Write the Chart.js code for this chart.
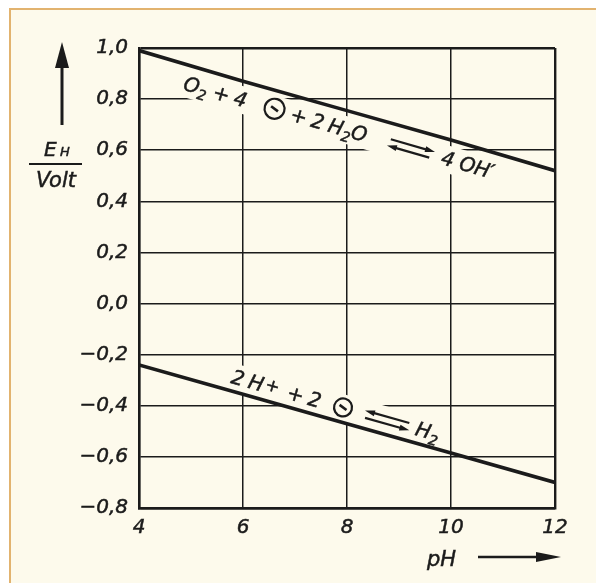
<!DOCTYPE html>
<html>
<head>
<meta charset="utf-8">
<script src="https://cdn.jsdelivr.net/npm/chart.js@4/dist/chart.umd.min.js"></script>
<style>
  html, body { margin: 0; padding: 0; width: 596px; height: 583px; overflow: hidden; background: #fff; }
  #paper { position: absolute; left: 9px; top: 8px; width: 620px; height: 620px; background: #fdfaec; border: 2px solid #e2b36f; }
  #wrap  { position: absolute; left: 0; top: 0; width: 596px; height: 583px; }
</style>
</head>
<body>
<div id="paper"></div>
<div id="wrap"><canvas id="chart" width="596" height="583"></canvas></div>
<script>
'use strict';

// Values: redox potential (V) against pH
const phValues  = [4, 6, 8, 10, 12];
const oxygenE   = [0.99, 0.87, 0.755, 0.64, 0.52];
const hydrogenE = [-0.24, -0.355, -0.47, -0.585, -0.70];

const xTickValues = [4, 6, 8, 10, 12];
const xTickLabels = ['4', '6', '8', '10', '12'];
const yTickValues = [-0.8, -0.6, -0.4, -0.2, 0.0, 0.2, 0.4, 0.6, 0.8, 1.0];
const yTickLabels = ['−0,8', '−0,6', '−0,4', '−0,2', '0,0', '0,2', '0,4', '0,6', '0,8', '1,0'];

const INK    = '#1b1b1b';
const PAPER  = '#fdfaec';
const FAMILY = '"DejaVu Sans", sans-serif';
const italic = px => `italic ${px}px ${FAMILY}`;

// Reaction labels written along the two lines (anchor = start of baseline, in data units)
const reactions = [
  {
    line: 0, pH: 4.83, e: 0.838,
    items: [
      { t: 'O' }, { t: '2', sub: true }, { gap: 6 }, { t: '+' }, { gap: 5 }, { t: '4' }, { gap: 18 },
      { circle: 11 }, { gap: 6 }, { t: '+' }, { gap: 5 }, { t: '2' }, { gap: 5 },
      { t: 'H' }, { t: '2', sub: true }, { t: 'O' }, { gap: 22 },
      { arrows: 'top-right', len: 48 }, { gap: 8 }, { t: '4' }, { gap: 6 }, { t: 'OH′' },
    ],
  },
  {
    line: 1, pH: 5.75, e: -0.31,
    items: [
      { t: '2' }, { gap: 5 }, { t: 'H' }, { gap: 2 }, { t: '+', sup: true }, { gap: 9 }, { t: '+' }, { gap: 5 },
      { t: '2' }, { gap: 13 }, { circle: 10 }, { gap: 12 },
      { arrows: 'top-left', len: 48 }, { gap: 6 }, { t: 'H' }, { t: '2', sub: true },
    ],
  },
];

const sizeOf = it => it.sub ? 14 : it.sup ? 17 : 20;

function itemWidth(ctx, it) {
  if (it.gap) return it.gap;
  if (it.circle) return it.circle * 2;
  if (it.arrows) return it.len;
  ctx.font = italic(sizeOf(it));
  return ctx.measureText(it.t).width;
}

function placeRun(chart, r) {
  const xs = chart.scales.x, ys = chart.scales.y;
  const ds = chart.data.datasets[r.line].data;
  const a = ds[0], b = ds[ds.length - 1];
  const angle = Math.atan2(ys.getPixelForValue(b.y) - ys.getPixelForValue(a.y),
                           xs.getPixelForValue(b.x) - xs.getPixelForValue(a.x));
  return { x: xs.getPixelForValue(r.pH), y: ys.getPixelForValue(r.e), angle };
}

// filled + slightly stroked, to get the pen weight of the drawing
function inkText(ctx, s, x, y) {
  ctx.fillText(s, x, y);
  ctx.lineWidth = 0.5;
  ctx.strokeText(s, x, y);
}

function drawArrow(ctx, x1, x2, y) {
  const dir = Math.sign(x2 - x1);
  ctx.beginPath();
  ctx.moveTo(x1, y);
  ctx.lineTo(x2 - dir * 6, y);
  ctx.stroke();
  ctx.beginPath();
  ctx.moveTo(x2, y);
  ctx.lineTo(x2 - dir * 10, y - 3);
  ctx.lineTo(x2 - dir * 10, y + 3);
  ctx.closePath();
  ctx.fill();
}

const reactionLabels = {
  id: 'reactionLabels',
  // clear a band of the grid behind each label, as in the drawing
  beforeDatasetsDraw(chart) {
    const ctx = chart.ctx;
    reactions.forEach(r => {
      const p = placeRun(chart, r);
      const len = r.items.reduce((s, it) => s + itemWidth(ctx, it), 0);
      ctx.save();
      ctx.translate(p.x, p.y);
      ctx.rotate(p.angle);
      ctx.fillStyle = PAPER;
      ctx.fillRect(-4, -20, len + 8, 27);
      ctx.restore();
    });
  },
  afterDatasetsDraw(chart) {
    const ctx = chart.ctx;
    reactions.forEach(r => {
      const p = placeRun(chart, r);
      ctx.save();
      ctx.translate(p.x, p.y);
      ctx.rotate(p.angle);
      ctx.fillStyle = INK;
      ctx.strokeStyle = INK;
      ctx.textBaseline = 'alphabetic';
      ctx.textAlign = 'left';
      let cx = 0;
      r.items.forEach(it => {
        const w = itemWidth(ctx, it);
        if (it.t) {
          ctx.font = italic(sizeOf(it));
          inkText(ctx, it.t, cx, it.sub ? 5 : it.sup ? -3 : 0);
        } else if (it.circle) {
          ctx.lineWidth = 2.2;
          ctx.beginPath();
          ctx.arc(cx + it.circle, -7, it.circle - 1, 0, Math.PI * 2);
          ctx.stroke();
          ctx.lineWidth = 2.6;
          ctx.beginPath();
          ctx.moveTo(cx + it.circle - 4, -8.5);
          ctx.lineTo(cx + it.circle + 4, -5.5);
          ctx.stroke();
        } else if (it.arrows) {
          ctx.lineWidth = 2.2;
          if (it.arrows === 'top-right') {
            drawArrow(ctx, cx + 2, cx + w, -10);
            drawArrow(ctx, cx + w - 4, cx, -3);
          } else {
            drawArrow(ctx, cx + w - 2, cx, -10);
            drawArrow(ctx, cx + 2, cx + w, -3);
          }
        }
        cx += w;
      });
      ctx.restore();
    });
  },
};

const axisTitles = {
  id: 'axisTitles',
  afterDraw(chart) {
    const ctx = chart.ctx;
    ctx.save();
    ctx.fillStyle = INK;
    ctx.strokeStyle = INK;
    ctx.textBaseline = 'alphabetic';

    // E_H / Volt with the upward arrow
    ctx.lineWidth = 3;
    ctx.beginPath(); ctx.moveTo(62, 125); ctx.lineTo(62, 62); ctx.stroke();
    ctx.beginPath(); ctx.moveTo(62, 42); ctx.lineTo(55, 68); ctx.lineTo(69, 68); ctx.closePath(); ctx.fill();

    ctx.textAlign = 'left';
    ctx.font = italic(20); inkText(ctx, 'E', 44, 156);
    ctx.font = italic(13); inkText(ctx, 'H', 60, 156);
    ctx.lineWidth = 2;
    ctx.beginPath(); ctx.moveTo(29, 164); ctx.lineTo(82, 164); ctx.stroke();
    ctx.textAlign = 'center';
    ctx.font = italic(21); inkText(ctx, 'Volt', 56, 187);

    // pH with the rightward arrow
    ctx.textAlign = 'left';
    ctx.font = italic(21); inkText(ctx, 'pH', 427, 566);
    ctx.lineWidth = 2.5;
    ctx.beginPath(); ctx.moveTo(478, 557); ctx.lineTo(540, 557); ctx.stroke();
    ctx.beginPath(); ctx.moveTo(561, 557); ctx.lineTo(536, 552); ctx.lineTo(536, 562); ctx.closePath(); ctx.fill();
    ctx.restore();
  },
};

const gridWidth = n => c => (c.index === 0 || c.index === n - 1) ? 2.4 : 1.5;

const tickStyle = {
  color: INK,
  textStrokeColor: INK,
  textStrokeWidth: 0.5,
  font: { family: FAMILY, size: 20, style: 'italic' },
};

new Chart(document.getElementById('chart'), {
  type: 'line',
  data: {
    datasets: [
      {
        label: 'O2 + 4e + 2 H2O = 4 OH',
        data: phValues.map((x, i) => ({ x, y: oxygenE[i] })),
        borderColor: INK,
        borderWidth: 3.6,
        pointRadius: 0,
        tension: 0,
        fill: false,
      },
      {
        label: '2 H+ + 2e = H2',
        data: phValues.map((x, i) => ({ x, y: hydrogenE[i] })),
        borderColor: INK,
        borderWidth: 3.6,
        pointRadius: 0,
        tension: 0,
        fill: false,
      },
    ],
  },
  options: {
    responsive: false,
    animation: false,
    events: [],
    layout: { padding: { top: 48, right: 41, left: 0, bottom: 0 } },
    plugins: { legend: { display: false }, tooltip: { enabled: false } },
    scales: {
      x: {
        type: 'linear',
        min: 4,
        max: 12,
        afterFit: s => { s.height = 75; },
        afterBuildTicks: s => { s.ticks = xTickValues.map(v => ({ value: v })); },
        grid: { color: INK, lineWidth: gridWidth(xTickValues.length), drawTicks: false },
        border: { display: true, color: INK, width: 2.4 },
        ticks: { ...tickStyle, padding: 8, callback: (v, i) => xTickLabels[i] },
      },
      y: {
        type: 'linear',
        min: -0.8,
        max: 1.0,
        afterFit: s => { s.width = 139; },
        afterBuildTicks: s => { s.ticks = yTickValues.map(v => ({ value: v })); },
        grid: { color: INK, lineWidth: gridWidth(yTickValues.length), drawTicks: false },
        border: { display: true, color: INK, width: 2.4 },
        ticks: { ...tickStyle, padding: 11, callback: (v, i) => yTickLabels[i] },
      },
    },
  },
  plugins: [reactionLabels, axisTitles],
});
</script>
</body>
</html>
